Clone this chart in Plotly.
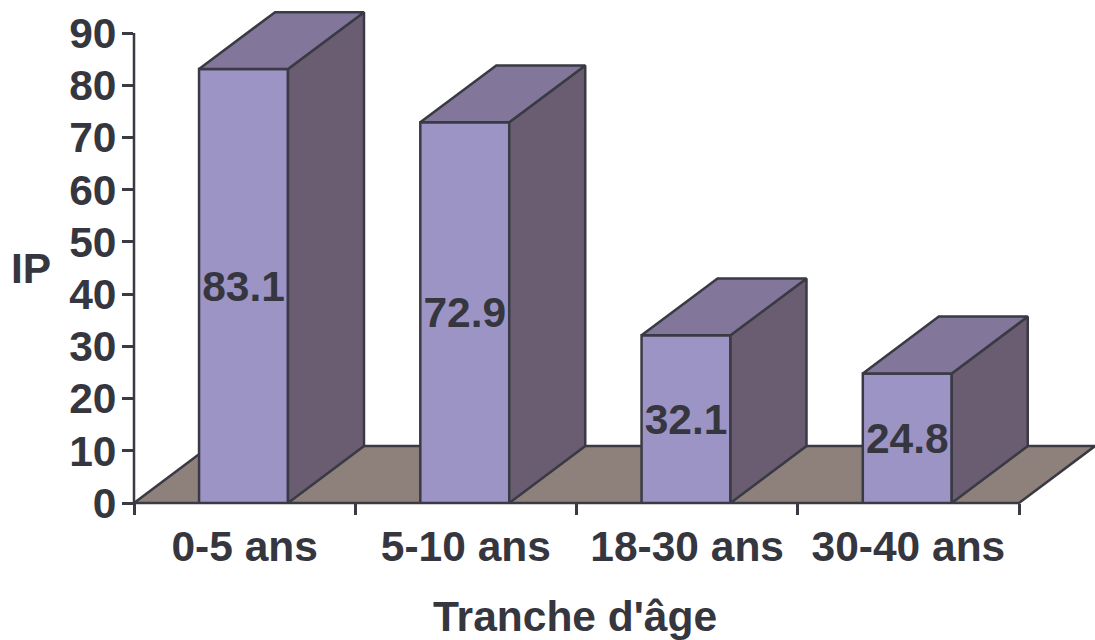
import plotly.graph_objects as go

categories = ["0-5 ans", "5-10 ans", "18-30 ans", "30-40 ans"]
ip_values = [83.1, 72.9, 32.1, 24.8]
y_ticks = [0, 10, 20, 30, 40, 50, 60, 70, 80, 90]

FRONT = "#9d94c6"
SIDE = "#6a5d72"
TOP = "#82769a"
FLOOR = "#8e807a"
EDGE = "#3a3a44"
TEXT = "#36363f"
FONT = "Liberation Sans"
FONT_SIZE = 42.5
EDGE_WIDTH = 2.5

# Oblique projection of the bar depth, in axis units
DEPTH_X = 0.3435
DEPTH_Y = 10.9
BAR_WIDTH = 0.402
BAR_OFFSET = -0.206

# Axis ranges leave room for the depth of the bars and the floor
X_MIN = -0.5
X_AXIS_END = len(categories) - 0.5
X_MAX = X_AXIS_END + DEPTH_X
Y_AXIS_END = 90
Y_MAX = 94.6

positions = list(range(len(categories)))
fig = go.Figure()

fig.add_bar(
    x=positions,
    y=ip_values,
    width=BAR_WIDTH,
    offset=BAR_OFFSET,
    marker=dict(color=FRONT, line=dict(color=EDGE, width=EDGE_WIDTH)),
    text=[f"{v:.1f}" for v in ip_values],
    textposition="inside",
    insidetextanchor="middle",
    textangle=0,
    constraintext="none",
    insidetextfont=dict(family=FONT, size=FONT_SIZE, color=TEXT, weight="bold"),
    hoverinfo="skip",
)

# Side and top faces of each bar
for pos, value in zip(positions, ip_values):
    left = pos + BAR_OFFSET
    right = left + BAR_WIDTH
    fig.add_scatter(
        x=[right, right + DEPTH_X, right + DEPTH_X, right, right],
        y=[0, DEPTH_Y, value + DEPTH_Y, value, 0],
        mode="lines",
        fill="toself",
        fillcolor=SIDE,
        line=dict(color=EDGE, width=EDGE_WIDTH),
        hoverinfo="skip",
    )
    fig.add_scatter(
        x=[left, left + DEPTH_X, right + DEPTH_X, right, left],
        y=[value, value + DEPTH_Y, value + DEPTH_Y, value, value],
        mode="lines",
        fill="toself",
        fillcolor=TOP,
        line=dict(color=EDGE, width=EDGE_WIDTH),
        hoverinfo="skip",
    )

# Floor and vertical axis line use paper coordinates so their strokes stay whole
x_span = X_MAX - X_MIN
axis_end = (X_AXIS_END - X_MIN) / x_span
depth_x = DEPTH_X / x_span
depth_y = DEPTH_Y / Y_MAX
fig.add_shape(
    type="path",
    path=(
        f"M 0 0 L {axis_end} 0 L {axis_end + depth_x} {depth_y} "
        f"L {depth_x} {depth_y} Z"
    ),
    xref="paper",
    yref="paper",
    layer="below",
    fillcolor=FLOOR,
    line=dict(color=EDGE, width=EDGE_WIDTH),
)
fig.add_shape(
    type="line",
    x0=0,
    x1=0,
    y0=0,
    y1=Y_AXIS_END / Y_MAX,
    xref="paper",
    yref="paper",
    layer="above",
    line=dict(color=EDGE, width=EDGE_WIDTH),
)

fig.add_annotation(
    text="<b>IP</b>",
    xref="paper",
    yref="paper",
    x=-103 / 961,
    y=235 / 494,
    xanchor="center",
    yanchor="middle",
    showarrow=False,
    font=dict(family=FONT, size=FONT_SIZE, color=TEXT),
)
fig.add_annotation(
    text="<b>Tranche d'âge</b>",
    xref="paper",
    yref="paper",
    x=441 / 961,
    y=-113 / 494,
    xanchor="center",
    yanchor="middle",
    showarrow=False,
    font=dict(family=FONT, size=FONT_SIZE, color=TEXT),
)

fig.update_layout(
    width=1095,
    height=640,
    autosize=False,
    margin=dict(l=134, r=0, t=9, b=137, pad=0),
    paper_bgcolor="white",
    plot_bgcolor="white",
    showlegend=False,
    xaxis=dict(
        range=[X_MIN, X_MAX],
        automargin=False,
        tickmode="array",
        tickvals=positions,
        ticktext=categories,
        ticks="",
        ticklabelstandoff=14,
        tickfont=dict(family=FONT, size=FONT_SIZE, color=TEXT, weight="bold"),
        minor=dict(
            tickmode="array",
            tickvals=[p - 0.5 for p in positions] + [positions[-1] + 0.5],
            ticks="outside",
            ticklen=11,
            tickwidth=EDGE_WIDTH,
            tickcolor=EDGE,
            showgrid=False,
        ),
        showgrid=False,
        zeroline=False,
        showline=False,
    ),
    yaxis=dict(
        range=[0, Y_MAX],
        automargin=False,
        tickmode="array",
        tickvals=y_ticks,
        ticks="outside",
        ticklen=11,
        tickwidth=EDGE_WIDTH,
        tickcolor=EDGE,
        ticklabelstandoff=-3,
        tickfont=dict(family=FONT, size=FONT_SIZE, color=TEXT, weight="bold"),
        showgrid=False,
        zeroline=False,
        showline=False,
    ),
)

fig.write_html("out.html", config=dict(displayModeBar=False))
